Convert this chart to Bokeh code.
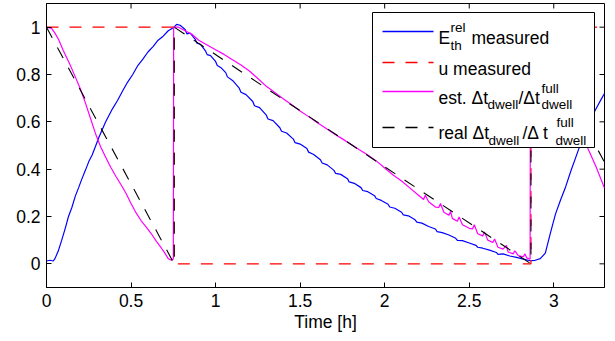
import math
from bokeh.plotting import figure
from bokeh.models import FixedTicker, BoxAnnotation, Label
from bokeh.embed import file_html
from bokeh.resources import INLINE

# ---------------- data ----------------
x_ticks = [0, 0.5, 1, 1.5, 2, 2.5, 3]
x_tick_labels = ["0", "0.5", "1", "1.5", "2", "2.5", "3"]
y_ticks = [0, 0.2, 0.4, 0.6, 0.8, 1]
y_tick_labels = ["0", "0.2", "0.4", "0.6", "0.8", "1"]
x_label = "Time [h]"

# E_th^rel measured (blue)
blue_t = [0.00, 0.02, 0.04, 0.05, 0.07, 0.09, 0.11, 0.13, 0.15, 0.17, 0.19, 0.21,
          0.23, 0.25, 0.27, 0.29, 0.31, 0.33, 0.35, 0.37, 0.39, 0.42, 0.45, 0.48,
          0.51, 0.54, 0.57, 0.60, 0.63, 0.66, 0.69, 0.72, 0.75, 0.77, 0.79,
          0.82, 0.83, 0.85, 0.88, 0.89, 0.91, 0.94, 0.95, 0.97, 1.00, 1.01, 1.03,
          1.06, 1.07, 1.10, 1.14, 1.15, 1.18, 1.22, 1.23, 1.26, 1.30, 1.31, 1.34,
          1.38, 1.39, 1.42, 1.46, 1.47, 1.50, 1.54, 1.55, 1.58, 1.62, 1.63, 1.66,
          1.70, 1.71, 1.74, 1.78, 1.79, 1.82, 1.86, 1.87, 1.90, 1.94, 1.95, 1.98,
          2.02, 2.03, 2.06, 2.10, 2.11, 2.14, 2.18, 2.19, 2.22, 2.26, 2.30, 2.31,
          2.34, 2.38, 2.42, 2.43, 2.46, 2.50, 2.54, 2.55, 2.58, 2.62, 2.66, 2.67,
          2.70, 2.74, 2.78, 2.82, 2.86, 2.89, 2.92, 2.95, 2.98, 3.01, 3.04, 3.07,
          3.10, 3.13, 3.16, 3.19, 3.22, 3.25, 3.28, 3.30]
blue_v = [0.012, 0.015, 0.012, 0.022, 0.055, 0.100, 0.148, 0.200, 0.238, 0.285, 0.322, 0.360,
          0.395, 0.432, 0.460, 0.497, 0.535, 0.568, 0.600, 0.628, 0.655, 0.690, 0.730, 0.768,
          0.800, 0.838, 0.865, 0.895, 0.918, 0.945, 0.962, 0.985, 0.998, 1.012, 1.008,
          0.990, 0.972, 0.975, 0.948, 0.932, 0.928, 0.900, 0.884, 0.880, 0.855, 0.838, 0.830,
          0.808, 0.790, 0.775, 0.742, 0.725, 0.715, 0.686, 0.668, 0.660, 0.628, 0.612, 0.605,
          0.575, 0.560, 0.553, 0.527, 0.512, 0.506, 0.487, 0.472, 0.462, 0.440, 0.426, 0.418,
          0.395, 0.382, 0.378, 0.360, 0.346, 0.340, 0.322, 0.310, 0.305, 0.288, 0.276, 0.268,
          0.252, 0.240, 0.235, 0.218, 0.207, 0.203, 0.186, 0.176, 0.172, 0.158, 0.147, 0.136,
          0.132, 0.122, 0.108, 0.099, 0.098, 0.088, 0.078, 0.070, 0.066, 0.058, 0.048, 0.040,
          0.042, 0.033, 0.027, 0.020, 0.013, 0.015, 0.022, 0.045, 0.130, 0.210, 0.270, 0.325,
          0.390, 0.450, 0.510, 0.565, 0.615, 0.655, 0.695, 0.720]

# u measured (red dashed)
u_t = [0.0, 0.755, 0.755, 2.865, 2.865, 3.3]
u_v = [1.0, 1.0, 0.0, 0.0, 1.0, 1.0]

# est. dwell ratio (magenta)
est_t = [0.00, 0.03, 0.05, 0.07, 0.10, 0.14, 0.17, 0.20, 0.23, 0.26, 0.29, 0.32,
         0.35, 0.38, 0.41, 0.44, 0.47, 0.50, 0.53, 0.56, 0.59, 0.62, 0.65, 0.68,
         0.70, 0.72, 0.74, 0.75, 0.752, 0.78, 0.82, 0.86, 0.90, 0.95, 1.00, 1.05,
         1.10, 1.15, 1.20, 1.25, 1.30, 1.35, 1.40, 1.45, 1.50, 1.55, 1.60, 1.65,
         1.70, 1.75, 1.80, 1.85, 1.90, 1.95, 2.00, 2.05, 2.10, 2.15,
         2.20, 2.23, 2.24, 2.26, 2.30, 2.32, 2.33, 2.35, 2.38, 2.39, 2.40, 2.43,
         2.44, 2.46, 2.50, 2.52, 2.53, 2.55, 2.58, 2.59, 2.61, 2.64, 2.65, 2.67,
         2.70, 2.72, 2.73, 2.76, 2.77, 2.79, 2.82, 2.83, 2.84, 2.86,
         2.862, 2.90, 3.00, 3.10, 3.20, 3.25, 3.30]
est_v = [1.000, 0.995, 0.975, 0.950, 0.900, 0.840, 0.790, 0.740, 0.680, 0.615, 0.550, 0.495,
         0.450, 0.408, 0.370, 0.335, 0.298, 0.255, 0.215, 0.182, 0.155, 0.127, 0.095, 0.066,
         0.045, 0.022, 0.015, 0.020, 1.000, 1.000, 0.985, 0.970, 0.945, 0.925, 0.905, 0.885,
         0.862, 0.840, 0.815, 0.783, 0.750, 0.724, 0.698, 0.672, 0.646, 0.622, 0.597, 0.574,
         0.550, 0.528, 0.505, 0.482, 0.460, 0.435, 0.405, 0.375, 0.350, 0.320,
         0.290, 0.272, 0.290, 0.262, 0.240, 0.238, 0.255, 0.218, 0.205, 0.222, 0.192, 0.180,
         0.198, 0.165, 0.150, 0.148, 0.165, 0.127, 0.118, 0.135, 0.100, 0.090, 0.105, 0.070,
         0.062, 0.078, 0.050, 0.042, 0.055, 0.035, 0.030, 0.042, 0.025, 0.020,
         1.000, 0.970, 0.820, 0.650, 0.490, 0.410, 0.320]

# real dwell ratio (black dashed)
real_t = [0.0, 0.755, 0.755, 2.865, 2.865, 3.3]
real_v = [1.0, 0.0, 1.0, 0.0, 1.0, 0.43]

# ---------------- figure ----------------
X_RANGE = (0, 3.3)
Y_RANGE = (-0.1, 1.1)
FONT = "Liberation Sans"
FS = "17.5px"
FS_SMALL = "13.5px"
FL, FT, FW, FH = 46, 3, 558, 284  # frame position on page, px

p = figure(x_range=X_RANGE, y_range=Y_RANGE, frame_width=FW, frame_height=FH,
           min_border_left=FL, min_border_right=8, min_border_top=FT, min_border_bottom=0,
           output_backend="svg", toolbar_location=None)
p.background_fill_color = "white"
p.border_fill_color = "white"
p.outline_line_color = "black"
p.outline_line_width = 1
p.xgrid.visible = False
p.ygrid.visible = False

for ax, ticks, labels in ((p.xaxis[0], x_ticks, x_tick_labels), (p.yaxis[0], y_ticks, y_tick_labels)):
    ax.ticker = FixedTicker(ticks=ticks)
    ax.major_label_overrides = {t: l for t, l in zip(ticks, labels)}
    ax.major_tick_in = 5
    ax.major_tick_out = 0
    ax.minor_tick_in = 0
    ax.minor_tick_out = 0
    ax.axis_line_color = "black"
    ax.major_tick_line_color = "black"
    ax.major_label_text_font = FONT
    ax.major_label_text_font_size = FS
    ax.major_label_text_color = "black"

p.xaxis[0].major_label_standoff = 6
p.yaxis[0].major_label_standoff = 6
p.xaxis[0].axis_label = x_label
p.xaxis[0].axis_label_text_font = FONT
p.xaxis[0].axis_label_text_font_size = FS
p.xaxis[0].axis_label_text_font_style = "normal"
p.xaxis[0].axis_label_text_color = "black"
p.xaxis[0].axis_label_standoff = 2

# inward tick marks on the top and right edges (half of each dash is clipped by the frame)
p.scatter(x_ticks, [Y_RANGE[1]] * len(x_ticks), marker="dash", size=10, angle=math.pi / 2,
          line_color="black", line_width=1)
p.scatter([X_RANGE[1]] * len(y_ticks), y_ticks, marker="dash", size=10, angle=0,
          line_color="black", line_width=1)

# ---------------- series ----------------
p.line(blue_t, blue_v, line_color="#0000ff", line_width=1.2)
p.line(u_t, u_v, line_color="#ff0000", line_width=1.2, line_dash="12 11")
p.line(est_t, est_v, line_color="#ff00ff", line_width=1.2)
p.line(real_t, real_v, line_color="black", line_width=1.1, line_dash="12 11")

# ---------------- legend (drawn manually for sub/superscripts) ----------------


def dx(px):
    return X_RANGE[0] + (px - FL) / FW * (X_RANGE[1] - X_RANGE[0])


def dy(py):
    return Y_RANGE[1] - (py - FT) / FH * (Y_RANGE[1] - Y_RANGE[0])


p.add_layout(BoxAnnotation(left=dx(372), right=dx(594), top=dy(12), bottom=dy(147),
                           fill_color="white", fill_alpha=1, line_color="black",
                           line_alpha=1, line_width=1))

sample_rows = [31, 62, 91, 127]
sample_colors = ["#0000ff", "#ff0000", "#ff00ff", "black"]
sample_dashes = ["solid", "12 11", "solid", "12 11"]
for py, col, dash in zip(sample_rows, sample_colors, sample_dashes):
    p.segment(x0=[dx(382)], y0=[dy(py)], x1=[dx(433)], y1=[dy(py)], line_color=col,
              line_width=1.3, line_dash=dash, level="overlay")

texts = [
    ("E", 438, 37, FS), ("rel", 450, 27, FS_SMALL), ("th", 450, 45, FS_SMALL),
    ("measured", 471, 37, FS),
    ("u measured", 438, 68, FS),
    ("est. \u0394t", 438, 97, FS), ("dwell", 487, 104, FS_SMALL), ("/\u0394t", 518, 97, FS),
    ("full", 541, 88, FS_SMALL), ("dwell", 541, 104, FS_SMALL),
    ("real \u0394t", 438, 132, FS), ("dwell", 488, 140, FS_SMALL), (" /\u0394 t", 522, 132, FS),
    ("full", 556, 122, FS_SMALL), ("dwell", 555, 140, FS_SMALL),
]
for txt, px, py, fs in texts:
    p.add_layout(Label(x=dx(px), y=dy(py), text=txt, text_font=FONT, text_font_size=fs,
                       text_color="black", text_baseline="alphabetic", text_align="left"))

open("out.html", "w").write(file_html(p, INLINE))
